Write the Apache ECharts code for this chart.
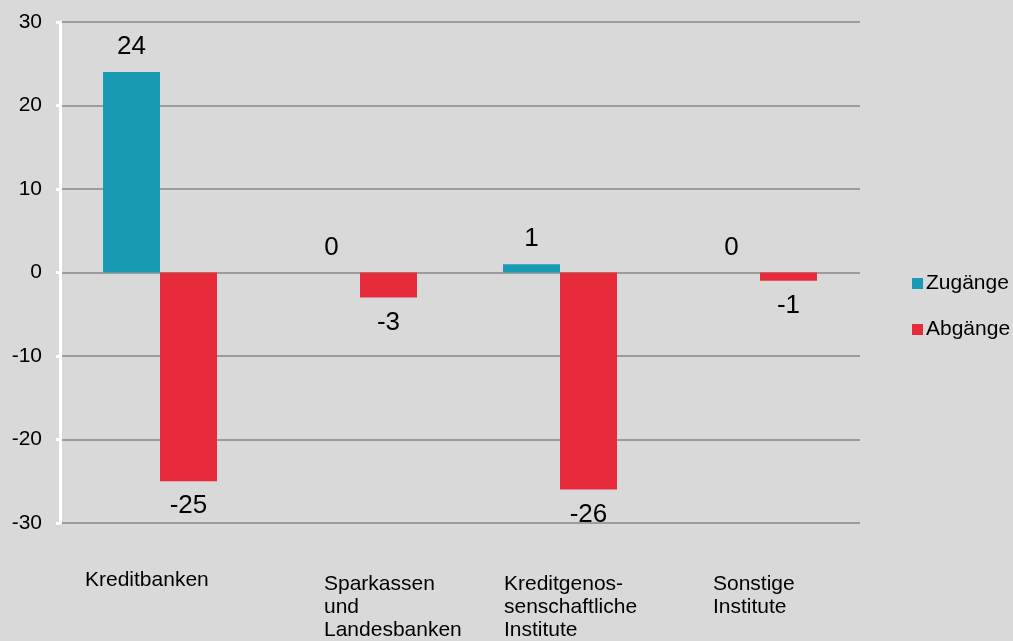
<!DOCTYPE html>
<html>
<head>
<meta charset="utf-8">
<script src="https://cdn.jsdelivr.net/npm/echarts@6/dist/echarts.min.js"></script>
<style>
html,body{margin:0;padding:0;background:#d9d9d9;}
#chart{width:1013px;height:641px;}
</style>
</head>
<body>
<div id="chart"></div>
<script>
const categories = ['Kreditbanken', 'Sparkassen\nund\nLandesbanken', 'Kreditgenos-\nsenschaftliche\nInstitute', 'Sonstige\nInstitute'];
const zugaenge = [24, 0, 1, 0];
const abgaenge = [-25, -3, -26, -1];
const seriesNames = ['Zugänge', 'Abgänge'];
const yTicks = {min: -30, max: 30, interval: 10};

const FONT = "'Liberation Sans', Arial, sans-serif";
const labelWidths = [150, 72, 112, 94];

function toData(arr) {
  return arr.map(v => ({value: v, label: {position: v < 0 ? 'bottom' : 'top'}}));
}

const rich = {};
labelWidths.forEach((w, i) => {
  rich['c' + i] = {width: w, align: 'left', fontSize: 21, lineHeight: i === 0 ? 15 : 23, color: '#000', fontFamily: FONT};
});

const chart = echarts.init(document.getElementById('chart'), null, {renderer: 'canvas'});
chart.setOption({
  backgroundColor: '#d9d9d9',
  animation: false,
  textStyle: {fontFamily: FONT},
  grid: {left: 60, right: 153, top: 22, bottom: 118, containLabel: false},
  legend: {
    orient: 'vertical', left: 907, top: 268,
    itemWidth: 11, itemHeight: 11, itemGap: 25, icon: 'rect',
    textStyle: {fontSize: 21, color: '#000', fontFamily: FONT, padding: [0, 0, 0, -2]},
    data: seriesNames
  },
  xAxis: {
    type: 'category',
    data: categories,
    axisLine: {show: false, onZero: false},
    axisTick: {show: false},
    axisLabel: {
      interval: 0, margin: 50, verticalAlign: 'top',
      formatter: function (value, idx) {
        return value.split('\n').map(l => '{c' + idx + '|' + l + '}').join('\n');
      },
      rich: rich
    }
  },
  yAxis: {
    type: 'value', min: yTicks.min, max: yTicks.max, interval: yTicks.interval,
    axisLine: {show: true, lineStyle: {color: '#ffffff', width: 3}},
    axisTick: {show: true, length: 4, lineStyle: {color: '#ffffff', width: 3}},
    axisLabel: {fontSize: 21, color: '#000', margin: 18, fontFamily: FONT},
    splitLine: {lineStyle: {color: '#878787', width: 1.5}}
  },
  series: [
    {
      name: seriesNames[0], type: 'bar', data: toData(zugaenge),
      barGap: '0%', barCategoryGap: '43%',
      itemStyle: {color: '#1a9bb4'},
      label: {show: true, fontSize: 26, color: '#000', distance: 12, fontFamily: FONT}
    },
    {
      name: seriesNames[1], type: 'bar', data: toData(abgaenge),
      barGap: '0%', barCategoryGap: '43%',
      itemStyle: {color: '#e72b3a'},
      label: {show: true, fontSize: 26, color: '#000', distance: 12, fontFamily: FONT}
    }
  ]
});
</script>
</body>
</html>
